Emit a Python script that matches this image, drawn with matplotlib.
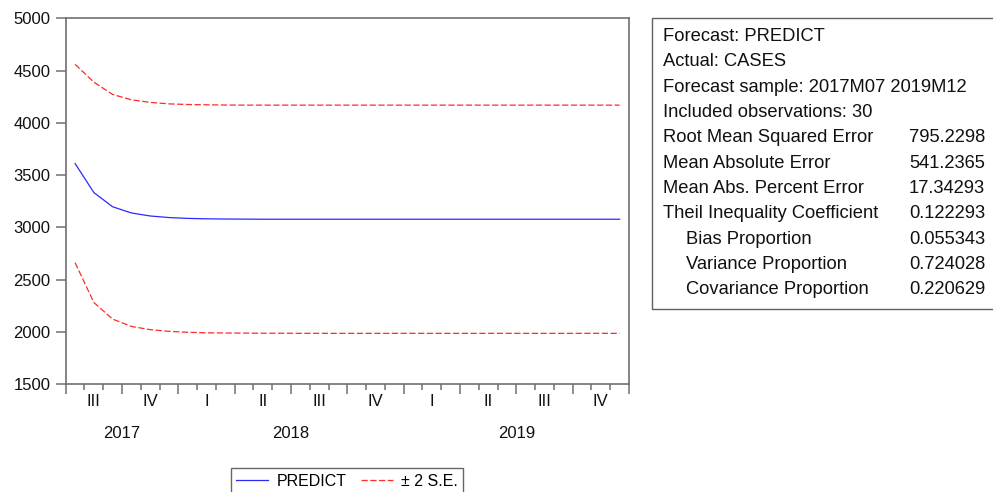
import matplotlib
matplotlib.use("Agg")
import matplotlib.pyplot as plt
import matplotlib.transforms as mtransforms
from matplotlib.patches import Rectangle

plt.rcParams['font.family'] = ['Liberation Sans', 'DejaVu Sans']

# ---------------- data ----------------
months = ["2017M07", "2017M08", "2017M09", "2017M10", "2017M11", "2017M12",
          "2018M01", "2018M02", "2018M03", "2018M04", "2018M05", "2018M06",
          "2018M07", "2018M08", "2018M09", "2018M10", "2018M11", "2018M12",
          "2019M01", "2019M02", "2019M03", "2019M04", "2019M05", "2019M06",
          "2019M07", "2019M08", "2019M09", "2019M10", "2019M11", "2019M12"]
predict = [3610, 3332, 3196, 3137, 3108, 3093, 3085, 3081, 3079, 3078,
           3077, 3077, 3077, 3077, 3077, 3077, 3077, 3077, 3077, 3077,
           3077, 3077, 3077, 3077, 3077, 3077, 3077, 3077, 3077, 3077]
upper = [4559, 4389, 4271, 4220, 4195, 4181, 4175, 4172, 4170, 4169,
         4169, 4169, 4169, 4169, 4169, 4169, 4169, 4169, 4169, 4169,
         4169, 4169, 4169, 4169, 4169, 4169, 4169, 4169, 4169, 4169]
lower = [2661, 2280, 2121, 2051, 2020, 2004, 1995, 1990, 1988, 1987,
         1986, 1986, 1985, 1985, 1985, 1985, 1985, 1985, 1985, 1985,
         1985, 1985, 1985, 1985, 1985, 1985, 1985, 1985, 1985, 1985]
quarter_labels = ["III", "IV", "I", "II", "III", "IV", "I", "II", "III", "IV"]
year_labels = ["2017", "2018", "2019"]
y_ticks = [1500, 2000, 2500, 3000, 3500, 4000, 4500, 5000]

stat_labels = ["Forecast: PREDICT", "Actual: CASES",
               "Forecast sample: 2017M07 2019M12", "Included observations: 30",
               "Root Mean Squared Error", "Mean Absolute Error",
               "Mean Abs. Percent Error", "Theil Inequality Coefficient",
               "Bias Proportion", "Variance Proportion", "Covariance Proportion"]
stat_values = ["", "", "", "", "795.2298", "541.2365", "17.34293",
               "0.122293", "0.055343", "0.724028", "0.220629"]
sub_items = {"Bias Proportion", "Variance Proportion", "Covariance Proportion"}

# ---------------- figure ----------------
W, H = 993, 492
fig = plt.figure(figsize=(W / 100, H / 100), dpi=100)
ax = fig.add_axes([65.7 / W, 1 - 384 / H, (629 - 65.7) / W, (384 - 18.3) / H])

x = list(range(len(months)))
ax.plot(x, predict, color='#2a2aff', lw=0.9, label='PREDICT')
ax.plot(x, upper, color='#ff2a2a', lw=0.9, dashes=(5, 2), label='\u00b1 2 S.E.')
ax.plot(x, lower, color='#ff2a2a', lw=0.9, dashes=(5, 2))

ax.set_xlim(-0.5, len(months) - 0.5)
ax.set_ylim(y_ticks[0], y_ticks[-1])
ax.set_yticks(y_ticks)
ax.set_yticklabels([str(v) for v in y_ticks])

spine_col = '#707070'
for s in ax.spines.values():
    s.set_color(spine_col)
    s.set_linewidth(1.2)

# x ticks: months (minor) and quarter boundaries (major)
bounds = [i - 0.5 for i in range(len(months) + 1)]
ax.set_xticks([b for i, b in enumerate(bounds) if i % 3 == 0])
ax.set_xticks(bounds, minor=True)
ax.set_xticklabels([])
ax.tick_params(axis='x', which='major', length=7, width=1.1, color=spine_col)
ax.tick_params(axis='x', which='minor', length=4, width=1.1, color=spine_col)
ax.tick_params(axis='y', which='major', length=7, width=1.1, color=spine_col,
               labelsize=12, pad=4, labelcolor='#111111')

trans = mtransforms.blended_transform_factory(ax.transData, fig.transFigure)
for q, lab in enumerate(quarter_labels):
    xc = 3 * q + 1
    ax.text(xc, 1 - 402 / H, lab, transform=trans, ha='center', va='center',
            fontsize=12, color='#111111')

# years: centre of the months belonging to each year
for yl in year_labels:
    idx = [i for i, m in enumerate(months) if m.startswith(yl)]
    xc = (idx[0] + idx[-1]) / 2
    ax.text(xc, 1 - 433 / H, yl, transform=trans, ha='center', va='center',
            fontsize=12, color='#111111')

# legend
leg = fig.legend(loc='upper center', bbox_to_anchor=(347 / W, 1 - 468 / H),
                 ncol=2, frameon=True, fancybox=False, fontsize=11.5,
                 handlelength=2.0, handletextpad=0.5, columnspacing=0.9,
                 borderpad=0.35, borderaxespad=0)
leg.get_frame().set_edgecolor('#404040')
leg.get_frame().set_linewidth(1.0)

# statistics box
fig.patches.append(Rectangle((652 / W, 1 - 309 / H), (W + 10 - 652) / W,
                             (309 - 18) / H, transform=fig.transFigure,
                             fill=False, edgecolor='#606060', lw=1.0))
for i, (lab, val) in enumerate(zip(stat_labels, stat_values)):
    yc = 1 - (36.7 + 25.3 * i) / H
    xl = 686 if lab in sub_items else 663
    fig.text(xl / W, yc, lab, ha='left', va='center', fontsize=13.2,
             color='#111111')
    if val:
        fig.text(985 / W, yc, val, ha='right', va='center', fontsize=13.2,
                 color='#111111')

fig.savefig('out.png', dpi=100)
